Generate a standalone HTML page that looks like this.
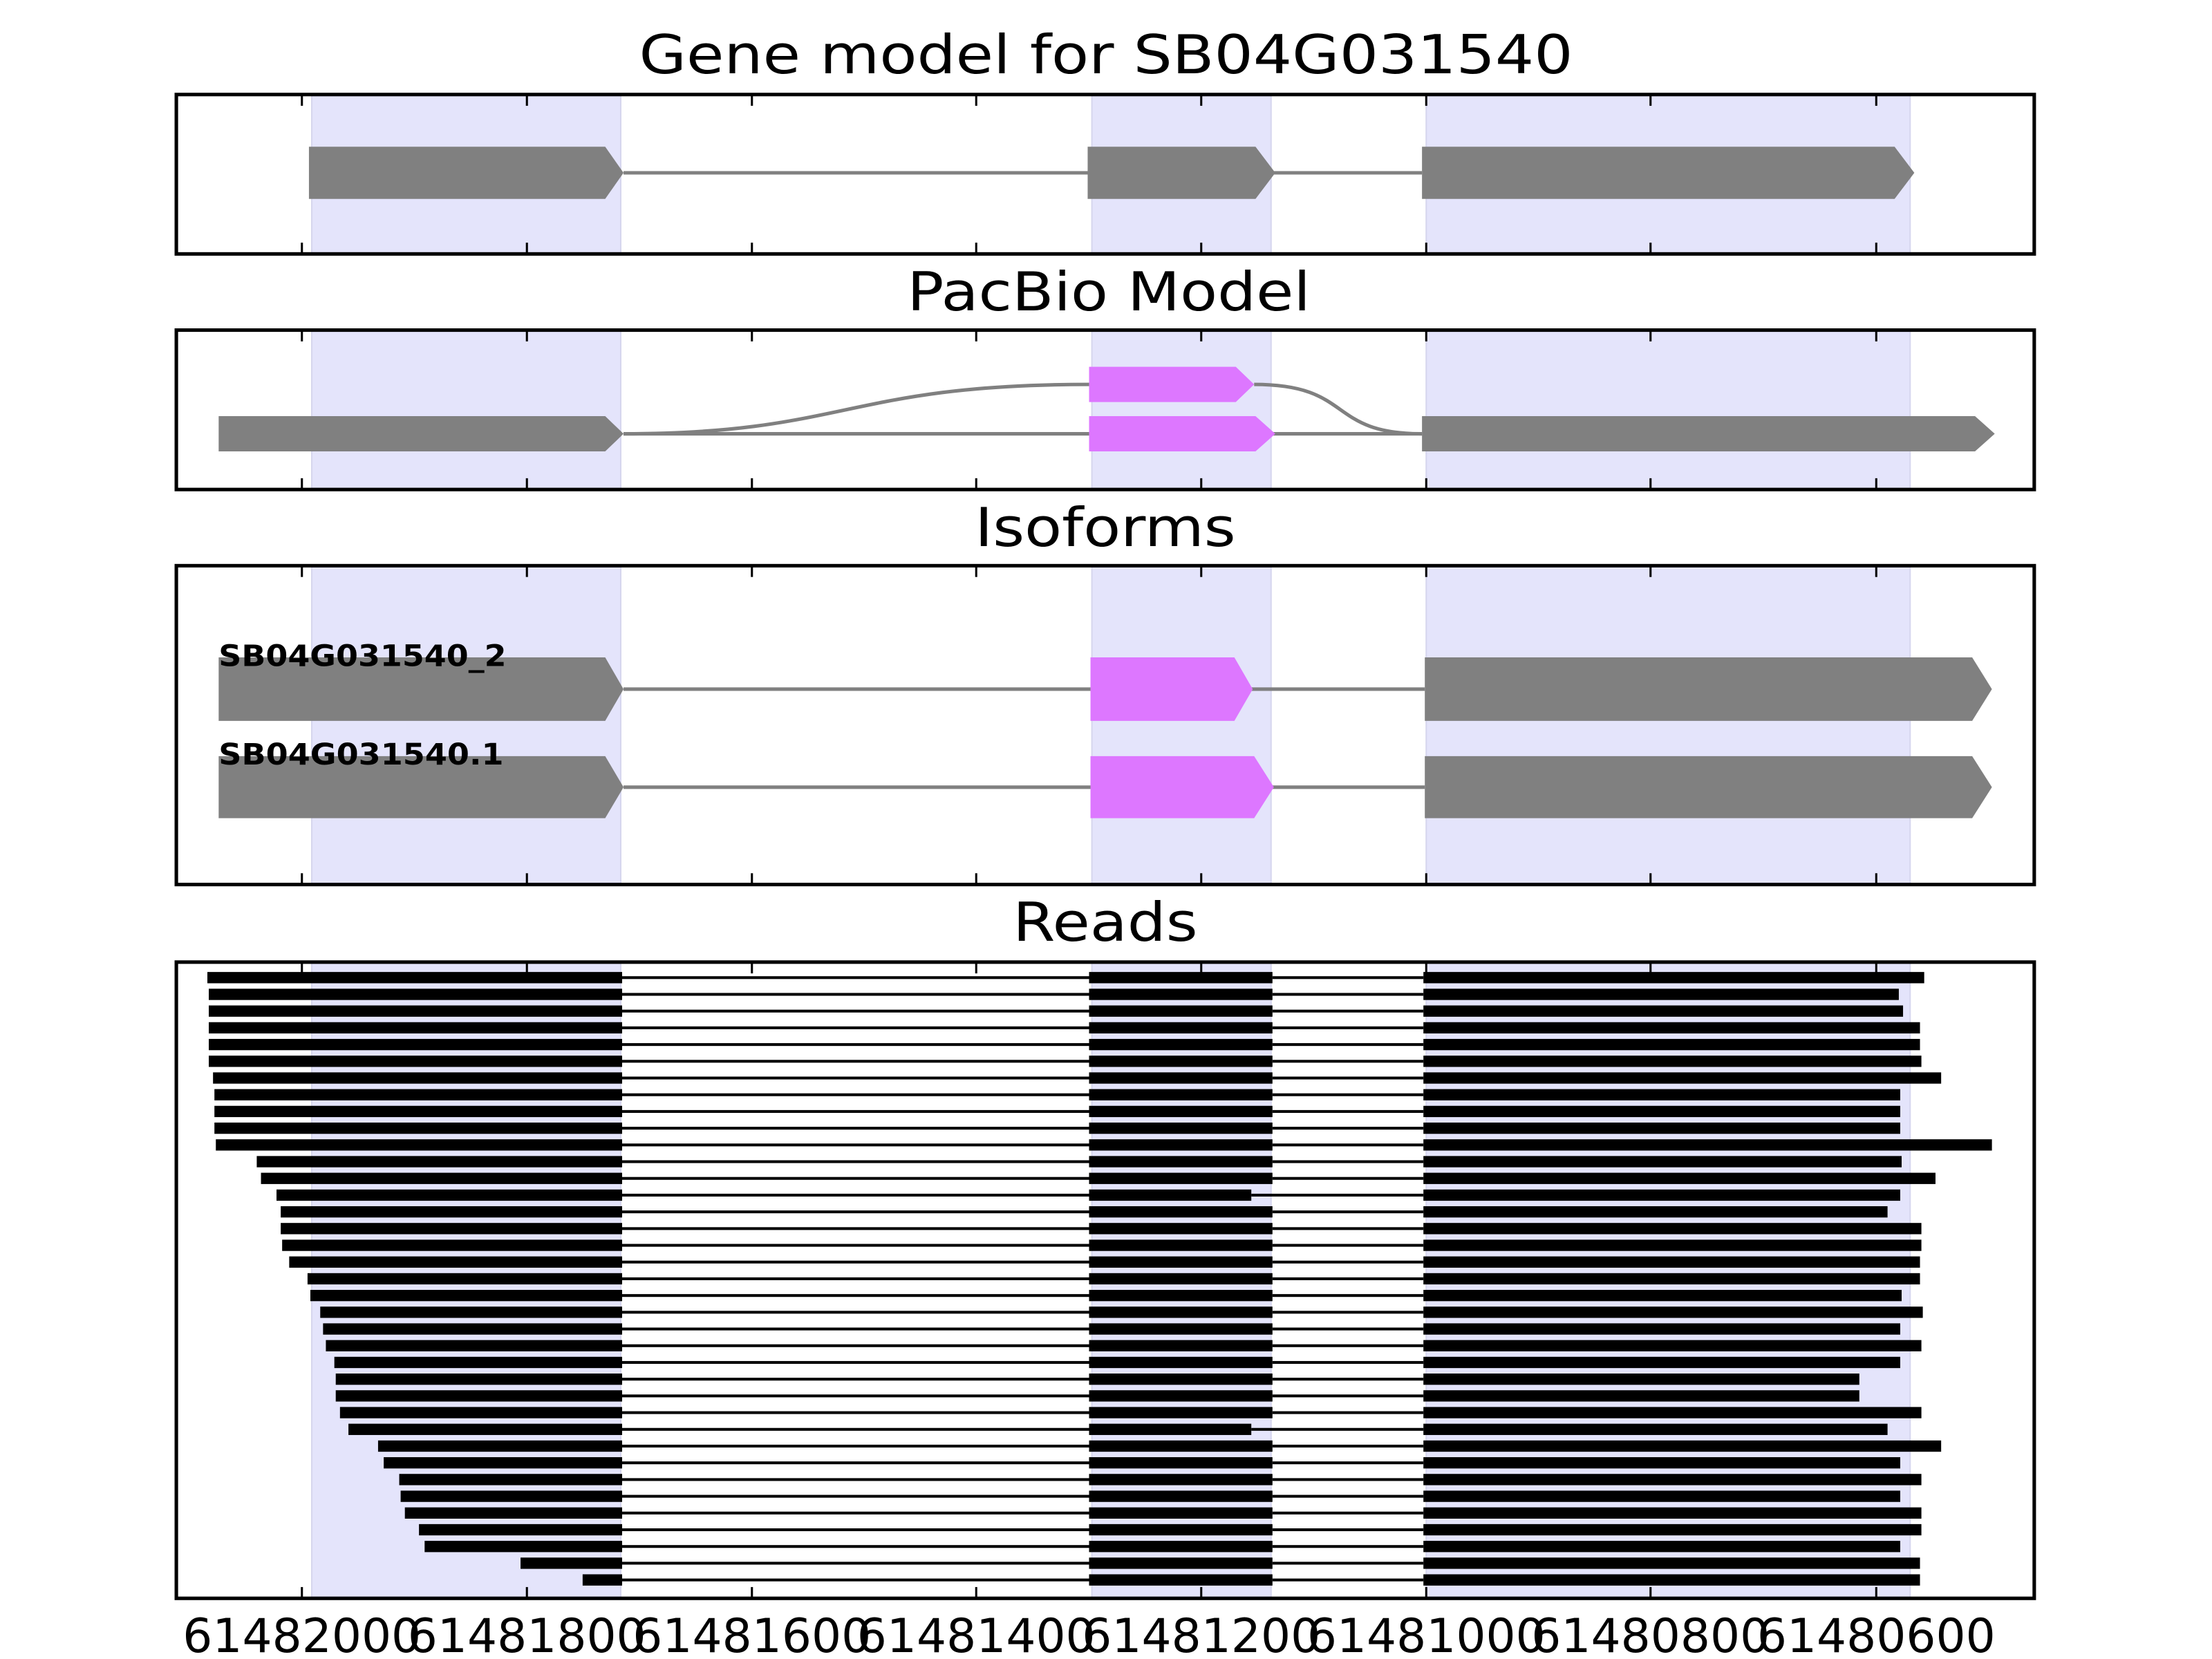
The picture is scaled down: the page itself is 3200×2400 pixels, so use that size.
<!DOCTYPE html>
<html><head><meta charset="utf-8"><style>
html,body{margin:0;padding:0;background:#fff;}
svg{display:block;}
</style></head><body>
<svg xmlns="http://www.w3.org/2000/svg" width="3200" height="2400" viewBox="0 0 1568 1176" preserveAspectRatio="none" font-family="DejaVu Sans, Liberation Sans, sans-serif">
<rect width="1568" height="1176" fill="#fff"/>

<g font-size="38" fill="#000" text-anchor="middle">
<text x="784" y="52" textLength="662" lengthAdjust="spacingAndGlyphs">Gene model for SB04G031540</text>
<text x="786" y="220" textLength="286" lengthAdjust="spacingAndGlyphs">PacBio Model</text>
<text x="783.5" y="387" textLength="185" lengthAdjust="spacingAndGlyphs">Isoforms</text>
<text x="783.5" y="667" textLength="131" lengthAdjust="spacingAndGlyphs">Reads</text>
</g>

<g fill="#e4e4fb" stroke="#d6d6ee" stroke-width="1">
<rect x="221" y="67" width="219" height="113"/><rect x="774" y="67" width="127" height="113"/><rect x="1011" y="67" width="343" height="113"/>
<rect x="221" y="234" width="219" height="113"/><rect x="774" y="234" width="127" height="113"/><rect x="1011" y="234" width="343" height="113"/>
<rect x="221" y="401" width="219" height="226"/><rect x="774" y="401" width="127" height="226"/><rect x="1011" y="401" width="343" height="226"/>
<rect x="221" y="682" width="219" height="451"/><rect x="774" y="682" width="127" height="451"/><rect x="1011" y="682" width="343" height="451"/>
</g>

<g fill="#808080" stroke="none">
<line x1="442" y1="122.5" x2="1008" y2="122.5" stroke="#808080" stroke-width="2.5"/>
<polygon points="219,104 429,104 442,122.5 429,141 219,141"/>
<polygon points="771,104 890,104 904,122.5 890,141 771,141"/>
<polygon points="1008,104 1343,104 1357,122.5 1343,141 1008,141"/>
</g>

<g>
<line x1="442" y1="307.5" x2="1008" y2="307.5" stroke="#808080" stroke-width="2.5"/>
<path d="M442,307.5 C600,307.5 600,272.5 772,272.5 M889,272.5 C960,272.5 940,307.5 1008,307.5" fill="none" stroke="#808080" stroke-width="2.5"/>
<polygon fill="#808080" points="155,295 429,295 442,307.5 429,320 155,320"/>
<polygon fill="#808080" points="1008,295 1400,295 1414,307.5 1400,320 1008,320"/>
<polygon fill="#dd77ff" points="772,295 890,295 904,307.5 890,320 772,320"/>
<polygon fill="#dd77ff" points="772,260 876,260 889,272.5 876,285 772,285"/>
</g>

<g>
<line x1="442" y1="488.5" x2="1010" y2="488.5" stroke="#808080" stroke-width="2.5"/>
<line x1="442" y1="558" x2="1010" y2="558" stroke="#808080" stroke-width="2.5"/>
<polygon fill="#808080" points="155,466 429,466 442,488.5 429,511 155,511"/>
<polygon fill="#dd77ff" points="773,466 875,466 888,488.5 875,511 773,511"/>
<polygon fill="#808080" points="1010,466 1398,466 1412,488.5 1398,511 1010,511"/>
<polygon fill="#808080" points="155,536 429,536 442,558 429,580 155,580"/>
<polygon fill="#dd77ff" points="773,536 889,536 903,558 889,580 773,580"/>
<polygon fill="#808080" points="1010,536 1398,536 1412,558 1398,580 1010,580"/>
<g font-size="21" font-weight="bold" fill="#000">
<text x="155" y="472" textLength="204" lengthAdjust="spacingAndGlyphs">SB04G031540_2</text>
<text x="155" y="542" textLength="202" lengthAdjust="spacingAndGlyphs">SB04G031540.1</text>
</g>
</g>

<g id="reads" fill="#000"></g>

<g fill="none" stroke="#000" stroke-width="2.5">
<rect x="125" y="67" width="1317" height="113"/>
<rect x="125" y="234" width="1317" height="113"/>
<rect x="125" y="401" width="1317" height="226"/>
<rect x="125" y="682" width="1317" height="451"/>
</g>
<g id="ticks" stroke="#000" stroke-width="1.5"></g>

<g font-size="33" fill="#000" text-anchor="middle">
<text x="214" y="1171" textLength="169" lengthAdjust="spacingAndGlyphs">61482000</text>
<text x="373.5" y="1171" textLength="169" lengthAdjust="spacingAndGlyphs">61481800</text>
<text x="533" y="1171" textLength="169" lengthAdjust="spacingAndGlyphs">61481600</text>
<text x="692" y="1171" textLength="169" lengthAdjust="spacingAndGlyphs">61481400</text>
<text x="851.5" y="1171" textLength="169" lengthAdjust="spacingAndGlyphs">61481200</text>
<text x="1011" y="1171" textLength="169" lengthAdjust="spacingAndGlyphs">61481000</text>
<text x="1170" y="1171" textLength="169" lengthAdjust="spacingAndGlyphs">61480800</text>
<text x="1330" y="1171" textLength="169" lengthAdjust="spacingAndGlyphs">61480600</text>
</g>

<script>
(function(){
var NS="http://www.w3.org/2000/svg";
var starts=[147,148,148,148,148,148,151,152,152,152,153,182,185,196,199,199,200,205,218,220,227,229,231,237,238,238,241,247,268,272,283,284,287,297,301,369,413];
var ends=[1364,1346,1349,1361,1361,1362,1376,1347,1347,1347,1412,1348,1372,1347,1338,1362,1362,1361,1361,1348,1363,1347,1362,1347,1318,1318,1362,1338,1376,1347,1362,1347,1362,1362,1347,1361,1361];
var g=document.getElementById("reads");
function r(x,y,w,h){var e=document.createElementNS(NS,"rect");e.setAttribute("x",x);e.setAttribute("y",y);e.setAttribute("width",w);e.setAttribute("height",h);g.appendChild(e);}
for(var i=0;i<37;i++){
 var y=693+i*11.86;
 var midEnd=(i==13||i==27)?887:902;
 r(441,y-1,331,2);
 r(midEnd,y-1,1009-midEnd,2);
 r(starts[i],y-4,441-starts[i],8);
 r(772,y-4,midEnd-772,8);
 r(1009,y-4,ends[i]-1009,8);
}
var t=document.getElementById("ticks");
var xs=[214,373.5,533,692,851.5,1011,1170,1330];
var panels=[[67,180],[234,347],[401,627],[682,1133]];
panels.forEach(function(p){xs.forEach(function(x){
 [[p[0],p[0]+8],[p[1]-8,p[1]]].forEach(function(s){
  var l=document.createElementNS(NS,"line");l.setAttribute("x1",x);l.setAttribute("x2",x);l.setAttribute("y1",s[0]);l.setAttribute("y2",s[1]);t.appendChild(l);
 });
});});
})();
</script>
</svg>
</body></html>
